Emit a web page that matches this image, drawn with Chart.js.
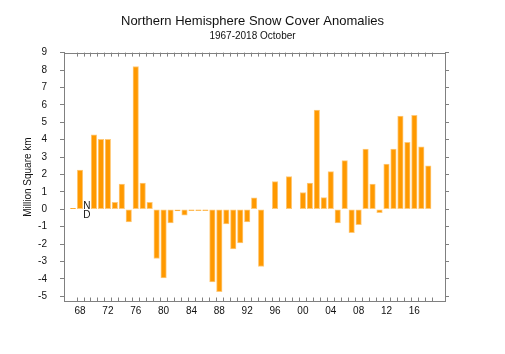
<!DOCTYPE html>
<html>
<head>
<meta charset="utf-8">
<script src="https://cdn.jsdelivr.net/npm/chart.js@4.4.0/dist/chart.umd.min.js"></script>
<style>
  html, body { margin: 0; padding: 0; background: #fff; }
  #wrap { width: 505px; height: 354px; }
</style>
</head>
<body>
<div id="wrap"><canvas id="snowChart" width="505" height="354"></canvas></div>
<script>
// Datos: anomalias de octubre (millones de km2), null = sin dato
const years = [];
for (let y = 1967; y <= 2018; y++) years.push(y);

const anomalies = [
    0.05, 2.25, null, 4.28, 4.02, 4.02, 0.40, 1.45, -0.73, 8.20,
    1.51, 0.40, -2.83, -3.94, -0.78, -0.10, -0.34, -0.08, -0.08, -0.08,
    -4.17, -4.74, -0.84, -2.28, -1.93, -0.73, 0.65, -3.29, null, 1.59,
    null, 1.87, null, 0.96, 1.51, 5.70, 0.67, 2.16, -0.78, 2.79,
    -1.34, -0.88, 3.46, 1.45, -0.19, 2.60, 3.46, 5.35, 3.84, 5.39,
    3.59, 2.50
];

const labelYears = [1968, 1972, 1976, 1980, 1984, 1988, 1992, 1996, 2000, 2004, 2008, 2012, 2016];
const yTicks = [-5, -4, -3, -2, -1, 0, 1, 2, 3, 4, 5, 6, 7, 8, 9];
const noDataYears = [1969];

const FONT = "'Liberation Sans', Arial, sans-serif";
const AXIS = '#808080';

// Marcas del eje x hacia dentro, linea superior y "N D"
const framePlugin = {
    id: 'frame',
    afterDraw(chart) {
        const ctx = chart.ctx;
        const area = chart.chartArea;
        const x = chart.scales.x;
        const yScale = chart.scales.y;
        ctx.save();
        ctx.strokeStyle = AXIS;
        ctx.lineWidth = 1;
        ctx.beginPath();
        ctx.moveTo(area.left, Math.round(area.top) + 0.5);
        ctx.lineTo(area.right, Math.round(area.top) + 0.5);
        years.forEach(yr => {
            const px = Math.round(x.getPixelForValue(yr + 0.5)) + 0.5;
            ctx.moveTo(px, area.top);
            ctx.lineTo(px, area.top + 4);
            ctx.moveTo(px, area.bottom);
            ctx.lineTo(px, area.bottom - 4);
        });
        ctx.stroke();

        ctx.fillStyle = '#111';
        ctx.font = '10px ' + FONT;
        ctx.textAlign = 'center';
        ctx.textBaseline = 'middle';
        noDataYears.forEach(yr => {
            const px = x.getPixelForValue(yr);
            const py = yScale.getPixelForValue(0);
            ctx.fillText('N', px, py - 3);
            ctx.fillText('D', px, py + 6);
        });
        ctx.restore();
    }
};

const ctx = document.getElementById('snowChart').getContext('2d');

new Chart(ctx, {
    type: 'bar',
    data: {
        datasets: [{
            data: years.map((yr, i) => ({ x: yr, y: anomalies[i] })),
            backgroundColor: '#ff9900',
            borderColor: '#ffc978',
            borderWidth: 1,
            borderSkipped: false,
            barThickness: 5.5
        }]
    },
    options: {
        responsive: false,
        animation: false,
        events: [],
        layout: { padding: 0 },
        plugins: {
            legend: { display: false },
            tooltip: { enabled: false },
            title: {
                display: true,
                text: 'Northern Hemisphere Snow Cover Anomalies',
                color: '#111',
                font: { family: FONT, size: 13, weight: 'normal' },
                padding: { top: 14, bottom: 0 }
            },
            subtitle: {
                display: true,
                text: '1967-2018 October',
                color: '#111',
                font: { family: FONT, size: 10, weight: 'normal' },
                padding: { top: 1, bottom: 10 }
            }
        },
        scales: {
            x: {
                type: 'linear',
                offset: false,
                min: 1965.7,
                max: 2020.4,
                afterBuildTicks: scale => {
                    scale.ticks = labelYears.map(v => ({ value: v }));
                },
                afterFit: scale => { scale.height = 52.5; },
                ticks: {
                    autoSkip: false,
                    maxRotation: 0,
                    padding: 4,
                    color: '#111',
                    font: { family: FONT, size: 10 },
                    callback: v => String(v).slice(2)
                },
                grid: { display: false, drawTicks: false },
                border: { display: true, color: AXIS, width: 1 }
            },
            y: {
                position: 'left',
                min: -5.3,
                max: 9,
                afterBuildTicks: scale => {
                    scale.ticks = yTicks.map(v => ({ value: v }));
                },
                afterFit: scale => { scale.width = 64; },
                ticks: {
                    padding: 13,
                    color: '#111',
                    font: { family: FONT, size: 10 },
                    callback: v => String(v)
                },
                grid: { drawOnChartArea: false, tickLength: 4, color: AXIS },
                border: { display: true, color: AXIS, width: 1 },
                title: {
                    display: true,
                    text: 'Million Square km',
                    color: '#111',
                    font: { family: FONT, size: 10 },
                    padding: { top: 22, bottom: 0 }
                }
            },
            y2: {
                position: 'right',
                min: -5.3,
                max: 9,
                afterBuildTicks: scale => {
                    scale.ticks = yTicks.map(v => ({ value: v }));
                },
                afterFit: scale => { scale.width = 60; },
                ticks: { callback: () => '' },
                grid: { drawOnChartArea: false, tickLength: 4, color: AXIS },
                border: { display: true, color: AXIS, width: 1 }
            }
        }
    },
    plugins: [framePlugin]
});
</script>
</body>
</html>
